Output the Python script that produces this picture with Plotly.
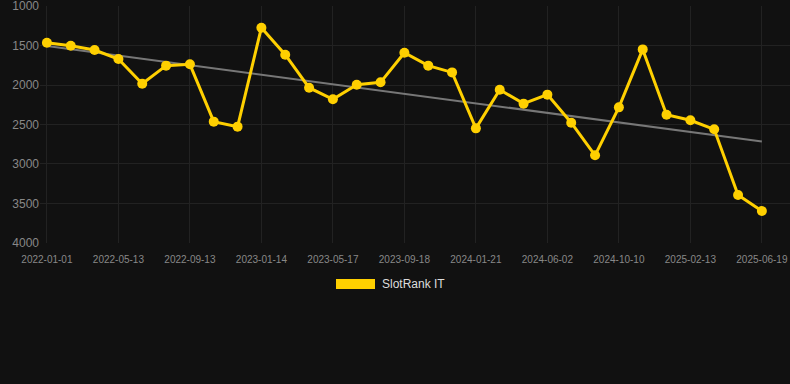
import numpy as np
import plotly.graph_objects as go

dates = [
    "2022-01-01", "2022-02-13", "2022-03-28", "2022-05-13", "2022-06-25", "2022-08-01",
    "2022-09-13", "2022-10-26", "2022-12-01", "2023-01-14", "2023-02-26", "2023-04-04",
    "2023-05-17", "2023-06-29", "2023-08-05", "2023-09-18", "2023-10-31", "2023-12-08",
    "2024-01-21", "2024-03-04", "2024-04-16", "2024-06-02", "2024-07-15", "2024-08-27",
    "2024-10-10", "2024-11-22", "2025-01-01", "2025-02-13", "2025-03-28", "2025-05-07",
    "2025-06-19",
]
ranks = [
    1464, 1502, 1557, 1671, 1983, 1755, 1738, 2464, 2527, 1274, 1616, 2034,
    2181, 1996, 1966, 1591, 1755, 1840, 2549, 2059, 2236, 2122, 2477, 2890,
    2283, 1549, 2376, 2447, 2561, 3392, 3595,
]
y_ticks = [1000, 1500, 2000, 2500, 3000, 3500, 4000]
series_name = "SlotRank IT"

idx = np.arange(len(ranks))
slope, intercept = np.polyfit(idx, ranks, 1)
trend = [intercept, intercept + slope * idx[-1]]

fig = go.Figure()
fig.add_trace(go.Scatter(
    x=[dates[0], dates[-1]], y=trend, mode="lines",
    line=dict(color="#777777", width=2), showlegend=False, hoverinfo="skip",
))
fig.add_trace(go.Scatter(
    x=dates, y=ranks, mode="lines+markers", name=series_name,
    line=dict(color="#FFD000", width=3),
    marker=dict(color="#FFD000", size=10),
    showlegend=False,
))

fig.add_shape(type="rect", xref="paper", yref="paper",
              x0=(336 - 40) / 750, x1=(375 - 40) / 750,
              y0=(243 - 289) / 237, y1=(243 - 279) / 237,
              fillcolor="#FFD000", line=dict(width=0))
fig.add_annotation(text=series_name, xref="paper", yref="paper",
                   x=(380 - 40) / 750, y=(243 - 284) / 237,
                   xanchor="left", yanchor="middle", showarrow=False,
                   font=dict(color="#dddddd", size=12))

fig.update_layout(
    width=790, height=384,
    margin=dict(l=40, r=0, t=6, b=141),
    paper_bgcolor="#111111", plot_bgcolor="#111111",
    font=dict(family="Arial, Liberation Sans, sans-serif", color="#888888"),
    showlegend=False,
)
fig.update_xaxes(
    type="category", categoryorder="array", categoryarray=dates,
    range=[-0.29, 31.18],
    tickvals=dates[::3], ticktext=dates[::3],
    showgrid=True, gridcolor="#222222", gridwidth=1,
    zeroline=False, showline=False, ticks="",
    ticklabelstandoff=9,
    tickfont=dict(size=10, color="#888888"),
)
fig.update_yaxes(
    range=[4000.5, 999.5], tickvals=y_ticks,
    showgrid=True, gridcolor="#222222", gridwidth=1,
    zeroline=False, showline=False, ticks="",
    ticklabeloverflow="allow",
    tickfont=dict(size=12, color="#888888"),
)

fig.write_html(
    "out.html",
    config={"displayModeBar": False},
    post_script="document.body.style.margin='0';document.body.style.background='#111111';",
)
